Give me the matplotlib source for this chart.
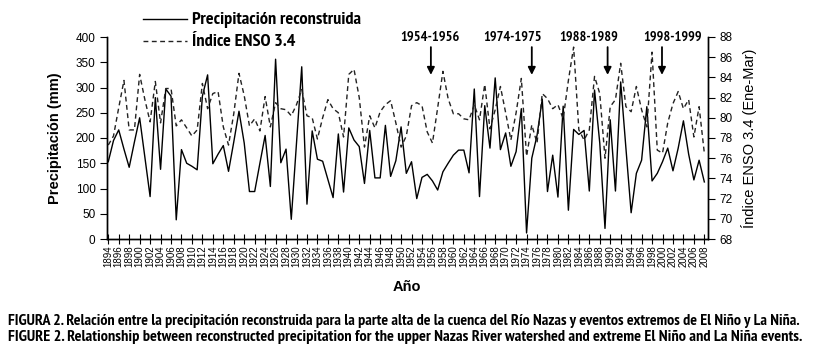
import matplotlib
matplotlib.use("Agg")
import matplotlib.pyplot as plt
from matplotlib import font_manager
from matplotlib.font_manager import FontProperties
import numpy as np

years = list(range(1894, 2009))
precip = [153, 195, 216, 178, 142, 192, 240, 162, 84, 280,
          138, 297, 283, 38, 177, 150, 144, 137, 283, 325,
          149, 168, 185, 134, 192, 253, 190, 94, 94, 150,
          205, 104, 356, 151, 178, 39, 190, 341, 69, 214,
          158, 154, 118, 82, 208, 93, 220, 196, 183, 110,
          215, 121, 121, 225, 124, 155, 222, 130, 153, 80,
          122, 128, 115, 97, 133, 150, 166, 176, 176, 131,
          297, 84, 264, 180, 319, 177, 210, 144, 173, 258,
          12, 160, 205, 277, 94, 166, 83, 263, 57, 217,
          207, 215, 95, 295, 190, 21, 236, 95, 311, 180,
          52, 130, 156, 262, 115, 130, 153, 180, 135, 180,
          234, 168, 117, 156, 113]
enso = [77.3, 78.2, 81.0, 83.7, 78.8, 78.8, 84.3, 81.8, 79.6, 83.6,
        79.5, 82.9, 82.9, 79.2, 79.8, 79.0, 78.2, 78.8, 83.4, 80.9,
        82.4, 82.6, 79.1, 77.3, 80.4, 84.4, 82.2, 79.2, 79.9, 78.7,
        82.1, 79.1, 81.5, 80.9, 80.8, 80.2, 81.3, 82.8, 80.2, 80.0,
        77.9, 80.0, 81.8, 80.9, 80.5, 78.1, 84.3, 84.8, 82.0, 77.1,
        80.2, 79.0, 80.6, 81.3, 81.7, 79.5, 77.1, 78.2, 81.2, 81.5,
        81.2, 78.6, 77.5, 81.0, 84.6, 81.9, 80.4, 80.4, 79.9, 79.8,
        81.3, 79.8, 83.3, 78.9, 80.8, 83.1, 80.5, 77.8, 80.5, 83.9,
        76.2, 79.3, 77.5, 82.4, 81.9, 80.9, 81.3, 79.9, 83.7, 87.0,
        78.8, 77.8, 78.8, 84.1, 82.4, 76.0, 81.1, 81.8, 85.4, 81.1,
        80.6, 83.1, 80.8, 79.1, 86.5, 76.8, 76.5, 79.5, 81.4, 82.6,
        80.9, 81.8, 78.1, 81.1, 76.5]

events = ["1954-1956", "1974-1975", "1988-1989", "1998-1999"]
event_arrow_x = [1955.7, 1975.0, 1989.5, 1999.9]
event_text_x = [1955.5, 1971.3, 1985.9, 2002.0]

yticks_left = [0, 50, 100, 150, 200, 250, 300, 350, 400]
yticks_right = [68, 70, 72, 74, 76, 78, 80, 82, 84, 86, 88]
xticks = list(range(1894, 2009, 2))

caption_es = ("FIGURA 2. Relación entre la precipitación reconstruida para la parte alta "
              "de la cuenca del Río Nazas y eventos extremos de El Niño y La Niña.")
caption_en = ("FIGURE 2. Relationship between reconstructed precipitation for the upper "
              "Nazas River watershed and extreme El Niño and La Niña events.")


def _w(f):
    try:
        return int(f.weight)
    except (TypeError, ValueError):
        return 700 if str(f.weight).lower() in ('bold', 'heavy', 'black', 'demibold', 'semibold', 'extra bold') else 400


def pick_narrow():
    cands = [f for f in font_manager.fontManager.ttflist
             if ('Narrow' in f.name or 'Condensed' in f.name)
             and 'Mono' not in f.name]
    bold = [f for f in cands if _w(f) >= 600]
    if bold:
        bold.sort(key=lambda f: (0 if 'Narrow' in f.name else 1, abs(_w(f) - 700)))
        return bold[0].name, 'normal', 'bold'
    if cands:
        return cands[0].name, 'normal', 'bold'
    return 'Liberation Sans', 'normal', 'bold'


narrow_name, narrow_stretch, narrow_weight = pick_narrow()
plt.rcParams['font.family'] = ['Liberation Sans', 'DejaVu Sans']

W, H = 814, 353
fig = plt.figure(figsize=(W / 100, H / 100), dpi=100)
renderer = fig.canvas.get_renderer()


def fit_text(t, target_w):
    size = t.get_fontsize()
    for _ in range(3):
        w = t.get_window_extent(renderer).width
        if w <= 0:
            break
        size = size * target_w / w
        t.set_fontsize(size)
    return size


L, R, B, T = 106.7, 708, 239, 37
ax = fig.add_axes([L / W, 1 - B / H, (R - L) / W, (B - T) / H])
ax2 = ax.twinx()

l1, = ax.plot(years, precip, color='black', lw=1.0)
l2, = ax2.plot(years, enso, color='#222222', lw=1.0, dashes=(3.5, 2.5))

ax.set_xlim(1893.7, 2008.7)
ax.set_ylim(0, 400)
ax2.set_ylim(68, 88)
ax.set_yticks(yticks_left)
ax2.set_yticks(yticks_right)
ax.set_xticks(xticks)
ax.set_xticklabels([str(y) for y in xticks], rotation=90, fontsize=7)
ax.tick_params(axis='x', direction='inout', length=7, width=0.8, pad=1)
ax.tick_params(axis='y', direction='out', length=5, width=0.8, labelsize=8.5, pad=3)
ax2.tick_params(axis='y', direction='out', length=5, width=0.8, labelsize=8.5, pad=3)
for a in (ax, ax2):
    a.spines['top'].set_visible(False)
    for s in ('left', 'right', 'bottom'):
        a.spines[s].set_linewidth(1.0)

ax.set_ylabel("Precipitación (mm)", fontsize=10.5, fontweight='bold', labelpad=10)
ax2.set_ylabel("Índice ENSO 3.4 (Ene-Mar)", fontsize=10.5, labelpad=6)
ax.set_xlabel("Año", fontsize=10.5, fontweight='bold', labelpad=9)

nfp = dict(family=[narrow_name, 'DejaVu Sans'], stretch=narrow_stretch,
           fontweight=narrow_weight)

for name, xa, xt in zip(events, event_arrow_x, event_text_x):
    ax.annotate("", xy=(xa, 325), xytext=(xa, 380),
                arrowprops=dict(arrowstyle='-|>', color='black', lw=1.3,
                                mutation_scale=11, shrinkA=0, shrinkB=0),
                annotation_clip=False)
    t = ax.text(xt, 400, name, ha='center', va='center', fontsize=9.5, **nfp)
    fit_text(t, 59)

leg = fig.legend([l1, l2], ["Precipitación reconstruida", "Índice ENSO 3.4"],
                 loc='upper left', bbox_to_anchor=(143 / W, 1 - 12 / H),
                 frameon=False, borderpad=0, borderaxespad=0,
                 handlelength=3.2, handletextpad=0.3, labelspacing=0.45,
                 prop=FontProperties(family=[narrow_name, 'DejaVu Sans'],
                                     stretch=narrow_stretch, size=10,
                                     weight=narrow_weight))
lt = leg.get_texts()[0]
s = fit_text(lt, 169)
for txt in leg.get_texts():
    txt.set_fontsize(s)
leg.handlelength = 42 / (s * 100 / 72)
leg.handletextpad = 4 / (s * 100 / 72)
leg.labelspacing = 8 / (s * 100 / 72)

c1 = fig.text(8 / W, 1 - 321 / H, caption_es, fontsize=8.3, va='center', **nfp)
c2 = fig.text(8 / W, 1 - 337 / H, caption_en, fontsize=8.3, va='center', **nfp)
fit_text(c1, 795)
fit_text(c2, 793)

fig.savefig("out.png", dpi=100)
